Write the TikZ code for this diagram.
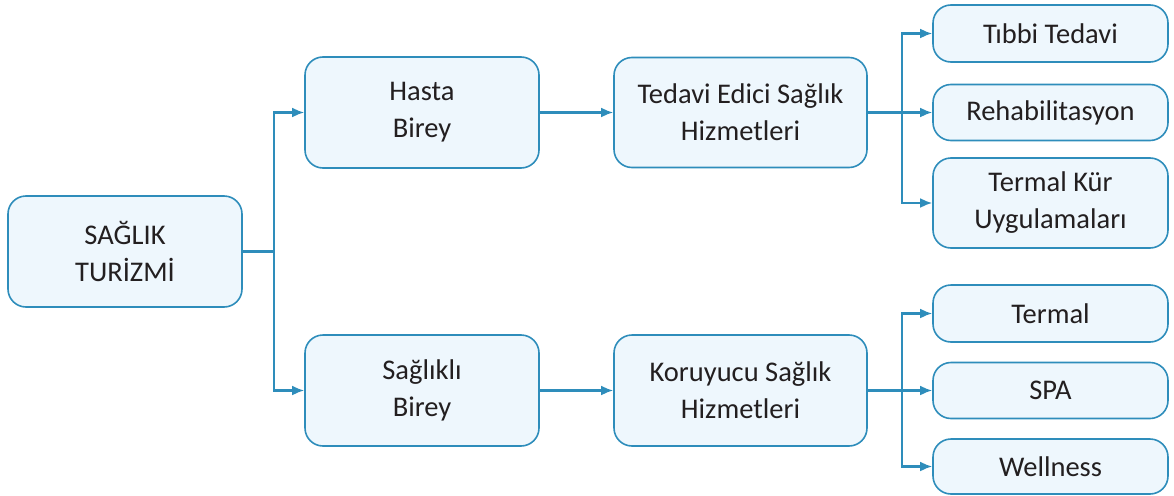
\documentclass[tikz,border=0pt]{standalone}
\usepackage{fontspec}
\setmainfont{Carlito}
\usetikzlibrary{arrows.meta}
\definecolor{bord}{HTML}{2E8DBB}
\definecolor{boxfill}{HTML}{EEF7FD}
\definecolor{txt}{HTML}{231F20}
\begin{document}
\begin{tikzpicture}[x=1pt,y=-1pt,
  box/.style={draw=bord, line width=1.6pt, fill=boxfill, rounded corners=18pt, text=txt,
    font=\fontsize{28.5}{37}\selectfont, align=center, inner sep=0pt},
  conn/.style={draw=bord, line width=2.2pt},
  arr/.style={conn, -{Latex[length=12pt,width=10pt]}}]
\useasboundingbox (0,0) rectangle (1174,495);
\node[box, minimum width=234pt, minimum height=111pt] (st) at (125,251.5) {SAĞLIK\\TURİZMİ};
\node[box, minimum width=234pt, minimum height=111pt] (hb) at (422,112.5) {Hasta\\Birey};
\node[box, minimum width=234pt, minimum height=111pt] (sb) at (422,390.5) {Sağlıklı\\Birey};
\node[box, minimum width=253pt, minimum height=110pt] (te) at (740.5,112.5) {Tedavi Edici Sağlık\\Hizmetleri};
\node[box, minimum width=253pt, minimum height=111pt] (ko) at (740.5,390.5) {Koruyucu Sağlık\\Hizmetleri};
\node[box, minimum width=235pt, minimum height=57pt] (t1) at (1050.5,33.5) {Tıbbi Tedavi};
\node[box, minimum width=235pt, minimum height=56pt] (t2) at (1050.5,112.5) {Rehabilitasyon};
\node[box, minimum width=235pt, minimum height=90pt] (t3) at (1050.5,203) {Termal Kür\\Uygulamaları};
\node[box, minimum width=235pt, minimum height=57pt] (k1) at (1050.5,313.5) {Termal};
\node[box, minimum width=235pt, minimum height=56pt] (k2) at (1050.5,390.5) {SPA};
\node[box, minimum width=235pt, minimum height=55pt] (k3) at (1050.5,466.5) {Wellness};
\coordinate (j1) at (274,251.5);
\coordinate (j2) at (902,112.5);
\coordinate (j3) at (902,390.5);
\draw[conn] (st.east) -- (j1);
\draw[arr] (j1) |- (hb.west);
\draw[arr] (j1) |- (sb.west);
\draw[arr] (hb.east) -- (te.west);
\draw[arr] (sb.east) -- (ko.west);
\draw[arr] (te.east) -- (t2.west);
\draw[arr] (j2) |- (t1.west);
\draw[arr] (j2) |- (t3.west);
\draw[arr] (ko.east) -- (k2.west);
\draw[arr] (j3) |- (k1.west);
\draw[arr] (j3) |- (k3.west);
\end{tikzpicture}
\end{document}
